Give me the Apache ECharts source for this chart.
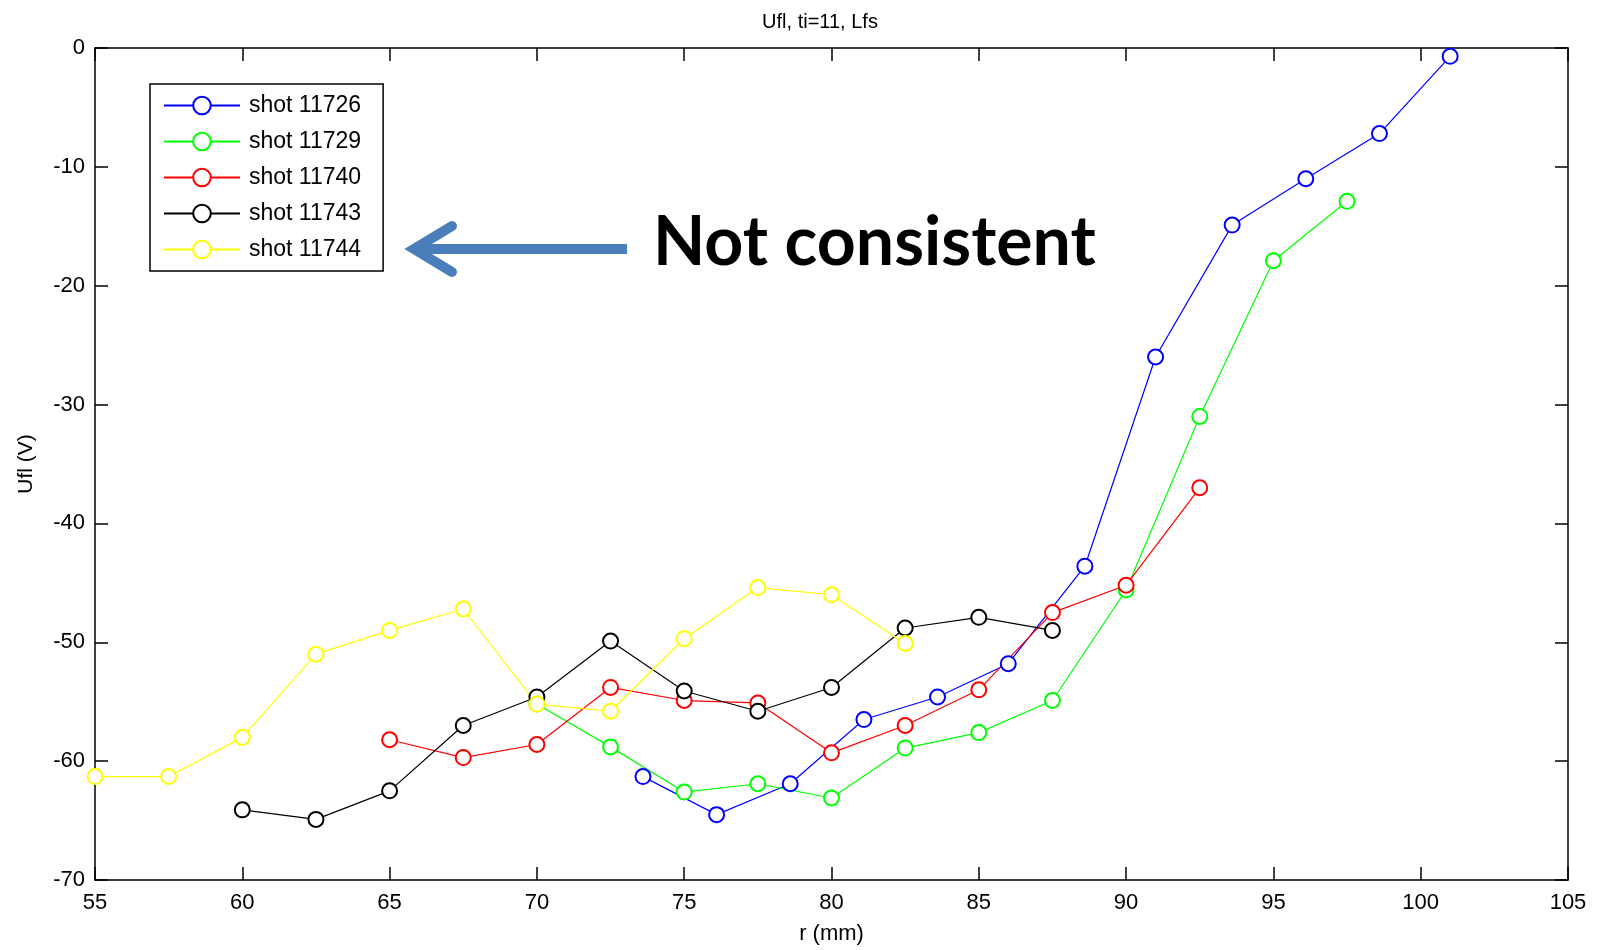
<!DOCTYPE html>
<html>
<head>
<meta charset="utf-8">
<title>Ufl, ti=11, Lfs</title>
<script src="https://cdn.jsdelivr.net/npm/echarts@6/dist/echarts.min.js"></script>
<style>
  html, body { margin: 0; padding: 0; background: #fff; }
  #chart { width: 1600px; height: 950px; }
</style>
</head>
<body>
<div id="chart"></div>
<script>
// r (mm) and Ufl (V), one pair of arrays per shot
var r11726 = [73.6, 76.1, 78.6, 81.1, 83.6, 86.0, 88.6, 91.0, 93.6, 96.1, 98.6, 101.0];
var u11726 = [-61.3, -64.5, -61.9, -56.5, -54.6, -51.8, -43.6, -26.0, -14.9, -11.0, -7.2, -0.7];

var r11729 = [70, 72.5, 75, 77.5, 80, 82.5, 85, 87.5, 90, 92.5, 95, 97.5];
var u11729 = [-55.2, -58.8, -62.6, -61.9, -63.1, -58.9, -57.6, -54.9, -45.6, -31.0, -17.9, -12.9];

var r11740 = [65, 67.5, 70, 72.5, 75, 77.5, 80, 82.5, 85, 87.5, 90, 92.5];
var u11740 = [-58.2, -59.7, -58.6, -53.8, -54.9, -55.1, -59.3, -57.0, -54.0, -47.5, -45.2, -37.0];

var r11743 = [60, 62.5, 65, 67.5, 70, 72.5, 75, 77.5, 80, 82.5, 85, 87.5];
var u11743 = [-64.1, -64.9, -62.5, -57.0, -54.6, -49.9, -54.1, -55.8, -53.8, -48.8, -47.9, -49.0];

var r11744 = [55, 57.5, 60, 62.5, 65, 67.5, 70, 72.5, 75, 77.5, 80, 82.5];
var u11744 = [-61.3, -61.3, -58.0, -51.0, -49.0, -47.2, -55.2, -55.8, -49.7, -45.4, -46.0, -50.1];

var shotNames = ['shot 11726', 'shot 11729', 'shot 11740', 'shot 11743', 'shot 11744'];
var shotColors = ['#0000ff', '#00ff00', '#ff0000', '#000000', '#ffff00'];

var xTicks = { min: 55, max: 105, step: 5 };
var yTicks = { min: -70, max: 0, step: 10 };

function pairs(xs, ys) {
    var out = [];
    for (var i = 0; i < xs.length; i++) out.push([xs[i], ys[i]]);
    return out;
}

var allData = [
    pairs(r11726, u11726),
    pairs(r11729, u11729),
    pairs(r11740, u11740),
    pairs(r11743, u11743),
    pairs(r11744, u11744)
];

var font = '"Liberation Sans Narrow", "Liberation Sans", Arial, sans-serif';

var myChart = echarts.init(document.getElementById('chart'));

function boxAxis(extra) {
    var ax = {
        type: 'value',
        axisLine: { show: true, onZero: false, lineStyle: { color: '#000', width: 1.5 } },
        axisTick: { show: true, inside: true, length: 13, lineStyle: { color: '#000', width: 1.5 } },
        splitLine: { show: false },
        axisLabel: { show: false }
    };
    for (var k in extra) ax[k] = extra[k];
    return ax;
}

var option = {
    animation: false,
    backgroundColor: '#fff',
    title: {
        text: 'Ufl, ti=11, Lfs',
        left: 815,
        textAlign: 'center',
        top: 7,
        textStyle: { fontFamily: font, fontSize: 20, fontWeight: 'normal', color: '#000' }
    },
    legend: {
        data: shotNames,
        orient: 'vertical',
        left: 150,
        top: 84,
        padding: [10, 22, 10, 13],
        itemWidth: 76,
        itemHeight: 22,
        itemGap: 13,
        borderColor: '#000',
        borderWidth: 1.5,
        backgroundColor: '#fff',
        textStyle: { fontFamily: font, fontSize: 23, lineHeight: 22, color: '#000', padding: [0, 0, 0, 4] }
    },
    grid: { left: 95, right: 32, top: 48, bottom: 70 },
    xAxis: [
        boxAxis({
            min: xTicks.min, max: xTicks.max, interval: xTicks.step,
            position: 'bottom',
            name: 'r (mm)',
            nameLocation: 'middle',
            nameGap: 43,
            nameTextStyle: { fontFamily: font, fontSize: 22, color: '#000' },
            axisLabel: { show: true, margin: 12, fontFamily: font, fontSize: 22, color: '#000' }
        }),
        boxAxis({ min: xTicks.min, max: xTicks.max, interval: xTicks.step, position: 'top' })
    ],
    yAxis: [
        boxAxis({
            min: yTicks.min, max: yTicks.max, interval: yTicks.step,
            position: 'left',
            name: 'Ufl (V)',
            nameLocation: 'middle',
            nameGap: 58,
            nameTextStyle: { fontFamily: font, fontSize: 21, color: '#000' },
            axisLabel: { show: true, margin: 10, fontFamily: font, fontSize: 22, color: '#000' }
        }),
        boxAxis({ min: yTicks.min, max: yTicks.max, interval: yTicks.step, position: 'right' })
    ],
    series: shotNames.map(function (name, i) {
        return {
            name: name,
            type: 'line',
            data: allData[i],
            symbol: 'emptyCircle',
            symbolSize: 15,
            color: shotColors[i],
            lineStyle: { width: 1.2, color: shotColors[i] },
            itemStyle: { color: shotColors[i], borderWidth: 1.3 }
        };
    }),
    graphic: [
        {
            type: 'polyline',
            shape: { points: [[627, 249], [414, 249]] },
            style: { stroke: '#4a7ebb', lineWidth: 10, fill: null },
            z: 100
        },
        {
            type: 'polyline',
            shape: { points: [[452, 226], [414, 249], [452, 272]] },
            style: { stroke: '#4a7ebb', lineWidth: 10, fill: null, lineCap: 'round', lineJoin: 'miter' },
            z: 100
        },
        {
            type: 'text',
            left: 653,
            top: 209,
            style: {
                text: 'Not consistent',
                font: 'bold 68px Lato, "Open Sans", sans-serif',
                fill: '#000'
            },
            z: 100
        }
    ]
};

myChart.setOption(option);
</script>
</body>
</html>
